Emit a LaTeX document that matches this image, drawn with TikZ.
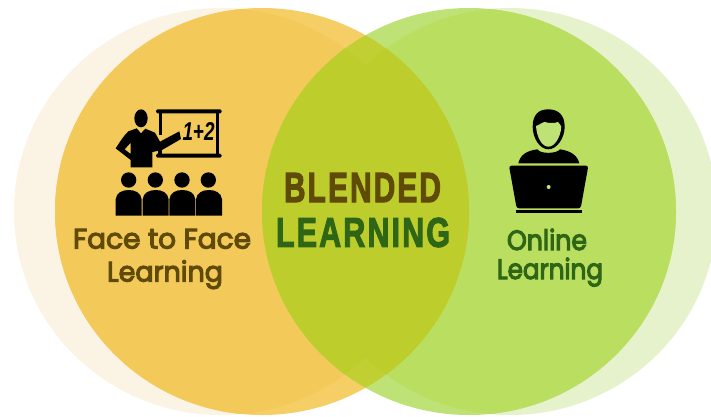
\documentclass[tikz,border=0pt]{standalone}
\usepackage{fontspec}
\setmainfont[FakeBold=4]{Poppins}
\newfontfamily\headfont[FakeBold=3,LetterSpace=7]{Liberation Sans}
\newfontfamily\sumfont{Liberation Sans}
\definecolor{paleO}{HTML}{FBF3E3}
\definecolor{paleG}{HTML}{E6F2CB}
\definecolor{mainO}{HTML}{F5CE65}
\definecolor{deepO}{HTML}{F3C95A}
\definecolor{mainG}{HTML}{BFE277}
\definecolor{deepG}{HTML}{B9DE60}
\definecolor{lensA}{HTML}{C1CF33}
\definecolor{lensB}{HTML}{BDCD2C}
\definecolor{txtO}{HTML}{5F4A08}
\definecolor{txtG}{HTML}{2F6616}
\newcommand\ca{(221,211.5) ellipse [x radius=207,y radius=203.5]}
\newcommand\cb{(262,211.5) ellipse [x radius=207,y radius=203.5]}
\newcommand\cc{(510,211.5) ellipse [x radius=207,y radius=203.5]}
\newcommand\cd{(469,211.5) ellipse [x radius=207,y radius=203.5]}
\tikzset{
  headtext/.style={inner sep=0pt,font=\headfont\bfseries,anchor=center},
  labeltext/.style={inner sep=0pt,anchor=base},
  icon/.style={fill=black,draw=none}
}
\begin{document}
\begin{tikzpicture}[x=1pt,y=-1pt]
\useasboundingbox (0,0) rectangle (711,416);
\fill[white] (0,0) rectangle (711,416);
\clip (0,0) rectangle (711,416);
% pale circles
\fill[paleO] \ca;
\fill[paleG] \cc;
% main circles
\fill[mainO] \cb;
\begin{scope}\clip \cb; \fill[deepO] \ca; \end{scope}
\fill[mainG] \cd;
\begin{scope}\clip \cd; \fill[deepG] \cc; \end{scope}
% lens
\begin{scope}
  \clip \cb; \clip \cd;
  \fill[lensA] (250,0) rectangle (480,416);
  \fill[lensB] \ca;
  \fill[lensB] \cc;
\end{scope}
% teacher icon
\begin{scope}[shift={(100,90)},scale=1/3]
  \fill[icon] (123,85) ellipse [x radius=20,y radius=27];
  \fill[icon,even odd rule]
    (110,115) -- (85,124) .. controls (70,140) .. (47,175) -- (92,210) -- (92,232) -- (157,232) -- (157,186)
    -- (186,180) -- (243,147) -- (238,124) -- (180,155) -- (165,128) -- (136,116) -- (123,130) -- cycle
    (92,158) -- (74,178) -- (92,192) -- cycle;
  \fill[icon,rounded corners=1.5] (168,58) rectangle (365,70);
  \fill[icon,rounded corners=1.5] (168,191) rectangle (365,203);
  \fill[icon] (176,68) rectangle (187,135);
  \fill[icon] (174,178) rectangle (186,195);
  \fill[icon] (347,68) rectangle (358,195);
  \foreach \hx/\bx in {86/47,166/128,246/208,325/288}{
    \fill[icon] (\hx,270) circle [radius=23];
    \fill[icon] (\bx,377) -- (\bx,328) .. controls (\bx+2,308) and (\bx+20,300) .. (\bx+39,300)
      .. controls (\bx+58,300) and (\bx+76,308) .. (\bx+78,328) -- (\bx+78,377) -- cycle;
  }
\end{scope}
\node[inner sep=0pt,text=black] (sum) at (198.5,131) {\resizebox{32pt}{18pt}{\sumfont\bfseries\itshape 1+2}};
% online person icon
\begin{scope}[shift={(490,90)},scale=1/3]
  \fill[icon] (175,58) .. controls (205,58) and (224,75) .. (224,110) .. controls (224,145) and (200,178) .. (175,178)
     .. controls (150,178) and (128,145) .. (128,110) .. controls (128,75) and (145,58) .. (175,58) -- cycle;
  \fill[mainG] (138,108) .. controls (150,104) and (158,96) .. (165,96) .. controls (175,100) and (195,100) .. (204,96)
     .. controls (208,100) and (212,106) .. (214,110) .. controls (212,140) and (195,170) .. (175,170)
     .. controls (155,170) and (140,140) .. (138,108) -- cycle;
  \fill[icon] (85,220) .. controls (90,195) and (110,182) .. (142,178) .. controls (150,192) and (200,192) .. (210,178)
     .. controls (240,182) and (262,195) .. (268,220) -- cycle;
  \fill[icon,rounded corners=2.5] (57,227) -- (295,227) -- (272,355) -- (80,355) -- cycle;
  \fill[icon] (77,360) rectangle (277,368);
  \fill[mainG] (176,291) circle [radius=6];
\end{scope}
% texts
\node[headtext,text=txtO] (blended) at (362.5,187.5) {\resizebox{157pt}{29pt}{BLENDED}};
\node[headtext,text=txtG] (learningc) at (363,232.5) {\resizebox{174pt}{29pt}{LEARNING}};
\node[labeltext,text=txtO] (face) at (162,248.5) {\resizebox{178pt}{\height}{\fontsize{28}{28}\selectfont Face to Face}};
\node[labeltext,text=txtO] (learnl) at (165,281.5) {\resizebox{116pt}{\height}{\fontsize{28}{28}\selectfont Learning}};
\node[labeltext,text=txtG] (online) at (547,250) {\resizebox{80pt}{\height}{\fontsize{28}{28}\selectfont Online}};
\node[labeltext,text=txtG] (learnr) at (550,279) {\resizebox{106pt}{\height}{\fontsize{28}{28}\selectfont Learning}};
\end{tikzpicture}
\end{document}
